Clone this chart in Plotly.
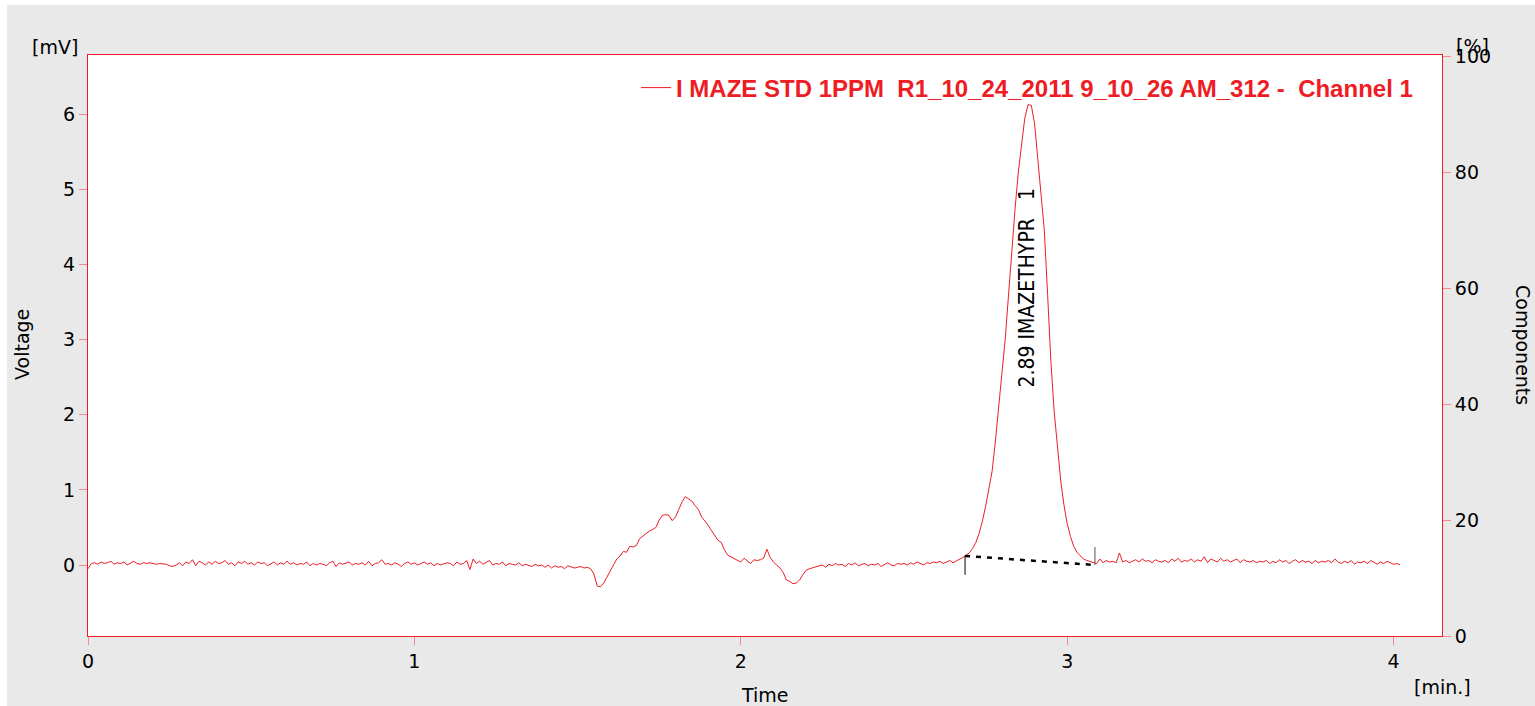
import plotly.graph_objects as go

# ---- chromatogram samples (mV), one every 0.01 min starting at 0.00 min ----
time_step_min = 0.01
voltage_mv = [
    -0.05, 0.02, 0.03, 0.01, 0.04, 0.02, 0.03, 0.05, 0.01, 0.03,   # 0.00
    0.02, 0.04, 0.00, 0.03, 0.05, 0.02, 0.01, 0.03, 0.02, 0.03,    # 0.10
    0.02, 0.01, 0.02, 0.02, 0.01, -0.01, -0.02, 0.00, 0.03, -0.01, # 0.20
    0.04, 0.02, 0.07, -0.01, 0.05, 0.03, 0.00, 0.04, 0.01, 0.05,   # 0.30
    0.02, 0.03, 0.06, 0.01, 0.03, -0.01, 0.04, 0.02, 0.05, 0.01,   # 0.40
    0.03, 0.00, 0.04, 0.02, 0.03, -0.01, 0.02, 0.04, 0.00, 0.03,   # 0.50
    0.01, 0.05, 0.01, 0.03, 0.00, 0.02, 0.01, 0.04, -0.01, 0.02,   # 0.60
    0.00, 0.02, 0.01, -0.01, 0.03, 0.05, -0.02, 0.03, 0.01, 0.02,  # 0.70
    0.04, 0.00, 0.02, 0.01, 0.03, 0.00, 0.05, -0.01, 0.02, 0.03,   # 0.80
    0.07, 0.01, 0.02, 0.00, 0.03, 0.01, -0.02, 0.02, 0.04, 0.01,   # 0.90
    0.03, 0.00, 0.02, 0.04, 0.01, 0.03, -0.01, 0.02, 0.00, 0.01,   # 1.00
    0.03, 0.02, -0.01, 0.04, 0.01, 0.02, 0.06, -0.06, 0.08, 0.02,  # 1.10
    0.05, 0.01, 0.03, 0.06, 0.00, 0.02, 0.01, 0.04, -0.01, 0.02,   # 1.20
    0.01, 0.00, 0.03, -0.01, 0.01, 0.00, -0.02, 0.01, -0.01, 0.00, # 1.30
    -0.03, 0.00, -0.04, -0.01, -0.03, -0.02, -0.05, -0.01, -0.02, -0.04,  # 1.40
    -0.03, -0.02, -0.04, -0.03, -0.05, -0.12, -0.28, -0.29, -0.24, -0.16, # 1.50
    -0.07, 0.00, 0.08, 0.12, 0.18, 0.17, 0.25, 0.24, 0.26, 0.35,   # 1.60
    0.39, 0.42, 0.45, 0.48, 0.50, 0.60, 0.66, 0.67, 0.66, 0.59,    # 1.70
    0.64, 0.74, 0.84, 0.91, 0.88, 0.85, 0.79, 0.74, 0.64, 0.59,    # 1.80
    0.53, 0.46, 0.40, 0.33, 0.30, 0.20, 0.13, 0.11, 0.08, 0.06,    # 1.90
    0.04, 0.09, 0.05, 0.02, 0.07, 0.06, 0.07, 0.09, 0.21, 0.10,    # 2.00
    0.04, 0.00, -0.04, -0.10, -0.20, -0.22, -0.25, -0.24, -0.20, -0.13,  # 2.10
    -0.07, -0.05, -0.04, -0.02, -0.01, 0.00, -0.03, 0.01, -0.01, 0.02,   # 2.20
    0.00, 0.01, -0.02, 0.02, 0.00, 0.03, -0.01, 0.01, 0.02, -0.01, # 2.30
    0.01, 0.00, 0.02, -0.02, 0.01, 0.03, 0.00, -0.01, 0.02, 0.01,  # 2.40
    0.02, 0.00, 0.03, 0.01, 0.04, 0.02, 0.00, 0.03, 0.02, 0.04,    # 2.50
    0.03, 0.05, 0.02, 0.04, 0.06, 0.03, 0.05, 0.08, 0.10, 0.13,    # 2.60
    0.16, 0.22, 0.30, 0.42, 0.58, 0.78, 1.00, 1.25, 1.65, 2.08,    # 2.70
    2.52, 3.00, 3.58, 4.22, 4.73, 5.22, 5.62, 5.95, 6.13, 6.12,    # 2.80
    5.88, 5.42, 4.93, 4.45, 3.60, 2.71, 2.05, 1.55, 1.13, 0.80,    # 2.90
    0.55, 0.38, 0.25, 0.17, 0.12, 0.08, 0.06, 0.05, 0.03, 0.02,    # 3.00
    0.08, 0.03, 0.06, 0.04, 0.05, 0.03, 0.16, 0.04, 0.06, 0.03,    # 3.10
    0.05, 0.07, 0.04, 0.08, 0.05, 0.06, 0.03, 0.07, 0.05, 0.04,    # 3.20
    0.06, 0.03, 0.08, 0.05, 0.09, 0.04, 0.06, 0.05, 0.08, 0.04,    # 3.30
    0.07, 0.05, 0.11, 0.03, 0.08, 0.06, 0.04, 0.09, 0.05, 0.07,    # 3.40
    0.04, 0.06, 0.08, 0.03, 0.07, 0.05, 0.04, 0.06, 0.03, 0.05,    # 3.50
    0.04, 0.06, 0.02, 0.05, 0.03, 0.07, 0.04, 0.06, 0.02, 0.05,    # 3.60
    0.07, 0.03, 0.06, 0.04, 0.05, 0.02, 0.06, 0.03, 0.05, 0.04,    # 3.70
    0.06, 0.03, 0.08, 0.04, 0.02, 0.05, 0.03, 0.06, 0.01, 0.04,    # 3.80
    0.03, 0.05, 0.02, 0.06, 0.03, 0.01, 0.04, 0.02, 0.05, 0.03,    # 3.90
    0.01, 0.02, 0.00,                                              # 4.00
]

# integration baseline of the peak and its start / end markers
baseline_time = [2.687, 3.085]
baseline_mv = [0.12, 0.00]
start_marker_time = [2.687, 2.687]
start_marker_mv = [0.12, -0.13]
end_marker_time = [3.085, 3.085]
end_marker_mv = [0.24, 0.00]

peak_label = "2.89 IMAZETHYPR\u00a0\u00a0\u00a01"
peak_label_time = 2.876
peak_label_mv = 3.69

series_name = ("I MAZE STD 1PPM\u00a0\u00a0R1_10_24_2011 9_10_26 AM_312 -"
               "\u00a0\u00a0Channel 1")

x_ticks = [0, 1, 2, 3, 4]
y_ticks = [0, 1, 2, 3, 4, 5, 6]
y2_ticks = [0, 20, 40, 60, 80, 100]

RED = "#ee1c25"
TICK = "#f28a8f"
BG = "#e9e9e9"
FONT = "DejaVu Sans"

W, H = 1535, 706
L, R, T, B = 88, 1442, 55, 636


def px(xp):
    return (xp - L) / (R - L)


def py(yp):
    return (B - yp) / (B - T)


fig = go.Figure()

fig.add_trace(go.Scatter(
    x0=0, dx=time_step_min, y=voltage_mv, mode="lines",
    line=dict(color=RED, width=1), name="<b>" + series_name + "</b>",
    showlegend=True,
))
fig.add_trace(go.Scatter(
    x=baseline_time, y=baseline_mv, mode="lines",
    line=dict(color="black", width=2.5, dash="5px,6px"), showlegend=False,
))
fig.add_trace(go.Scatter(
    x=start_marker_time, y=start_marker_mv, mode="lines",
    line=dict(color="black", width=1), showlegend=False,
))
fig.add_trace(go.Scatter(
    x=end_marker_time, y=end_marker_mv, mode="lines",
    line=dict(color="#555555", width=1), showlegend=False,
))
# empty series that keeps the percentage axis on screen
fig.add_trace(go.Scatter(x=[], y=[], yaxis="y2", showlegend=False,
                         hoverinfo="skip"))

axis_font = dict(family=FONT, size=19, color="black")

fig.update_layout(
    width=W, height=H,
    margin=dict(l=L, r=W - R, t=T, b=H - B, pad=0),
    paper_bgcolor=BG, plot_bgcolor="white",
    font=axis_font,
    xaxis=dict(
        range=[0, 1354 / 326.4], tickvals=x_ticks, ticks="outside", ticklen=8,
        tickcolor=TICK, tickwidth=1, showgrid=False, zeroline=False,
        showline=True, linecolor=RED, linewidth=1, mirror=True,
        tickfont=axis_font,
    ),
    yaxis=dict(
        range=[-(B - 565) / 75.1, (565 - T) / 75.1], tickvals=y_ticks,
        ticks="outside", ticklen=8, tickcolor=TICK, tickwidth=1,
        showgrid=False, zeroline=False, showline=True, linecolor=RED,
        linewidth=1, mirror=True, tickfont=axis_font,
    ),
    yaxis2=dict(
        range=[0, 100 * (B - T) / (B - 56)], tickvals=y2_ticks,
        overlaying="y", side="right", anchor="x",
        ticks="outside", ticklen=8, tickcolor=TICK, tickwidth=1,
        showgrid=False, zeroline=False, showline=True, linecolor=RED,
        linewidth=1, tickfont=axis_font,
    ),
    legend=dict(
        x=px(1418), xanchor="right", y=py(88), yanchor="middle",
        bgcolor="rgba(0,0,0,0)", borderwidth=0,
        font=dict(family="Liberation Sans, Arial, sans-serif", size=24,
                  color=RED),
    ),
)

annotations = [
    dict(text="[mV]", x=px(55), y=py(47)),
    dict(text="[%]", x=px(1472), y=py(46)),
    dict(text="[min.]", x=px(1442), y=py(687)),
    dict(text="Time", x=px(765), y=py(695)),
    dict(text="Voltage", x=px(22), y=py(345), textangle=-90),
    dict(text="Components", x=px(1523), y=py(345), textangle=90),
]
for a in annotations:
    fig.add_annotation(
        xref="paper", yref="paper", showarrow=False, xanchor="center",
        yanchor="middle", font=axis_font, **a,
    )

fig.add_annotation(
    x=peak_label_time, y=peak_label_mv, xref="x", yref="y",
    text=peak_label, textangle=-90, showarrow=False,
    xanchor="center", yanchor="middle",
    font=dict(family="Liberation Sans Narrow, DejaVu Sans Condensed, Arial Narrow, sans-serif",
              size=21, color="black"),
)

# thin white frame along the top and left edges of the page
fig.add_shape(type="rect", xref="paper", yref="paper", layer="above",
              x0=px(0), x1=px(7), y0=py(H), y1=py(0),
              fillcolor="white", line=dict(width=0))
fig.add_shape(type="rect", xref="paper", yref="paper", layer="above",
              x0=px(0), x1=px(W), y0=py(5), y1=py(0),
              fillcolor="white", line=dict(width=0))

fig.write_html("out.html")
